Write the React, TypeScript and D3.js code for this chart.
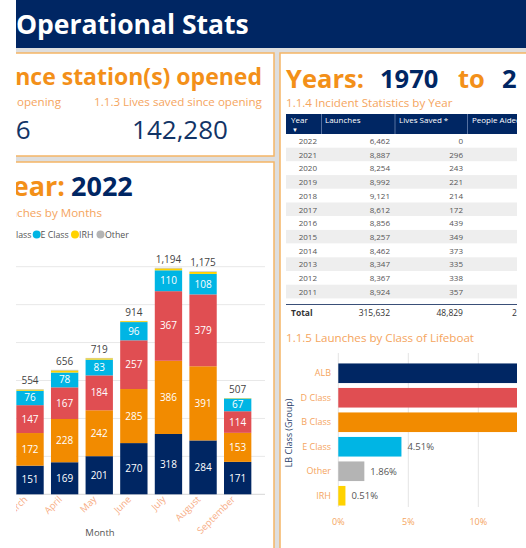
import React, { useRef, useEffect } from "react";
import * as d3 from "d3";

// launches by month, 2022 (stacked by lifeboat class)
const MONTHS = ["March", "April", "May", "June", "July", "August", "September"];
const ALB = [151, 169, 201, 270, 318, 284, 171];
const B_CLASS = [172, 228, 242, 285, 386, 391, 153];
const D_CLASS = [147, 167, 184, 257, 367, 379, 114];
const E_CLASS = [76, 78, 83, 96, 110, 108, 67];
const IRH = [6, 11, 7, 5, 10, 10, 2];
const OTHER = [2, 3, 2, 1, 3, 3, 0];
const MONTH_TICKS = [0, 200, 400, 600, 800, 1000, 1200];

// incident statistics table
const YEARS = [2022, 2021, 2020, 2019, 2018, 2017, 2016, 2015, 2014, 2013, 2012, 2011];
const LAUNCHES = [6462, 8887, 8254, 8992, 9121, 8612, 8856, 8257, 8462, 8347, 8367, 8924];
const LIVES_SAVED = [0, 296, 243, 221, 214, 172, 439, 349, 373, 335, 338, 357];
const TABLE_COLUMNS = ["Year", "Launches", "Lives Saved *", "People Aided"];
const TOTAL_LAUNCHES = 315632;
const TOTAL_LIVES_SAVED = 48829;

// share of launches by class
const CLASSES = ["ALB", "D Class", "B Class", "E Class", "Other", "IRH"];
const CLASS_SHARE = [36.9, 28.1, 28.12, 4.51, 1.86, 0.51];
const SHARE_TICKS = [0, 5, 10];

const LIVES_SAVED_SINCE_OPENING = 142280;

const NAVY = "#002663";
const ORANGE = "#F28B00";
const RED = "#E04E52";
const CYAN = "#00B5E4";
const YELLOW = "#FFD200";
const GREY = "#B4B4B4";
const TITLE_ORANGE = "#F39019";
const LABEL_ORANGE = "#F5A55E";
const BORDER = "#F5B565";
const TEXT = "#555";
const FONT = "'Segoe UI', 'Open Sans', sans-serif";

export const OperationalStats = () => {
    const svgRef = useRef<SVGSVGElement>(null);

    useEffect(() => {
        if (!svgRef.current) return;

        const svg = d3.select(svgRef.current);
        svg.selectAll("*").remove();

        const width = 526;
        const height = 548;
        svg.attr("width", width)
            .attr("height", height)
            .style("font-family", FONT)
            .style("position", "absolute")
            .style("left", 0)
            .style("top", 0);

        const defs = svg.append("defs");
        defs.append("clipPath").attr("id", "clip-page")
            .append("rect").attr("x", 16).attr("y", 0).attr("width", width - 16).attr("height", height);
        defs.append("clipPath").attr("id", "clip-rows")
            .append("rect").attr("x", 280).attr("y", 134).attr("width", 260).attr("height", 169.5);

        svg.append("rect").attr("width", width).attr("height", height).attr("fill", "#fff");

        const page = svg.append("g").attr("clip-path", "url(#clip-page)");

        // backdrop + header
        page.append("rect").attr("x", 0).attr("y", 48).attr("width", width).attr("height", height).attr("fill", "#dedede");
        page.append("rect").attr("x", 0).attr("y", 0).attr("width", width).attr("height", 48).attr("fill", NAVY);
        page.append("text")
            .attr("x", 16).attr("y", 34)
            .attr("fill", "#fff").attr("font-size", 26.5).attr("font-weight", 700)
            .text("Operational Stats");

        // panels
        const panel = (x: number, y: number, w: number, h: number) =>
            page.append("rect")
                .attr("x", x).attr("y", y).attr("width", w).attr("height", h)
                .attr("fill", "#fff").attr("stroke", BORDER).attr("stroke-width", 1.5);
        panel(-20, 53, 294, 103);
        panel(-20, 162, 294, 420);
        panel(280, 53, 300, 520);

        // KPI panel
        page.append("text")
            .attr("x", 262).attr("y", 85).attr("text-anchor", "end")
            .attr("fill", TITLE_ORANGE).attr("font-size", 23).attr("font-weight", 700)
            .text("nce station(s) opened");
        page.append("text")
            .attr("x", 61).attr("y", 106).attr("text-anchor", "end")
            .attr("fill", LABEL_ORANGE).attr("font-size", 11.6)
            .text("opening");
        page.append("text")
            .attr("x", 178).attr("y", 106).attr("text-anchor", "middle")
            .attr("fill", LABEL_ORANGE).attr("font-size", 11.6)
            .text("1.1.3 Lives saved since opening");
        page.append("text")
            .attr("x", 30.5).attr("y", 139).attr("text-anchor", "end")
            .attr("fill", "#123466").attr("font-size", 26)
            .text("6");
        page.append("text")
            .attr("x", 180).attr("y", 139).attr("text-anchor", "middle")
            .attr("fill", "#123466").attr("font-size", 26)
            .text(d3.format(",")(LIVES_SAVED_SINCE_OPENING));

        // ---- launches by months ----
        page.append("text")
            .attr("x", 65).attr("y", 196).attr("text-anchor", "end")
            .attr("fill", TITLE_ORANGE).attr("font-size", 27).attr("font-weight", 700)
            .text("Year:");
        page.append("text")
            .attr("x", 71).attr("y", 196)
            .attr("fill", NAVY).attr("font-size", 27).attr("font-weight", 700)
            .text("2022");
        page.append("text")
            .attr("x", 102).attr("y", 217).attr("text-anchor", "end")
            .attr("fill", LABEL_ORANGE).attr("font-size", 11.6)
            .text("1.1.6 Launches by Months");

        const legend = [
            { name: "D Class", color: RED, dot: -100, x: 31.5 },
            { name: "E Class", color: CYAN, dot: 36.7, x: 40.5 },
            { name: "IRH", color: YELLOW, dot: 75, x: 79 },
            { name: "Other", color: GREY, dot: 100.5, x: 105 },
        ];
        legend.forEach((l, i) => {
            page.append("circle").attr("cx", l.dot).attr("cy", 234.5).attr("r", 4).attr("fill", l.color);
            page.append("text")
                .attr("x", l.x).attr("y", 237.5)
                .attr("text-anchor", i === 0 ? "end" : "start")
                .attr("fill", TEXT).attr("font-size", 8.8)
                .text(l.name);
        });

        const x = d3.scaleBand()
            .domain(MONTHS)
            .range([12.9, 254.8])
            .paddingInner(0.21)
            .paddingOuter(0.1);

        const y = d3.scaleLinear()
            .domain([0, 1200])
            .range([494.3, 266.7]);

        page.append("g")
            .selectAll("line")
            .data(MONTH_TICKS)
            .join("line")
            .attr("x1", 0).attr("x2", 265)
            .attr("y1", (d) => y(d)).attr("y2", (d) => y(d))
            .attr("stroke", (d) => (d === 0 ? "#d6d6d6" : "#e8e8e8"))
            .attr("stroke-width", 1);

        const series = [
            { name: "ALB", values: ALB, color: NAVY },
            { name: "B Class", values: B_CLASS, color: ORANGE },
            { name: "D Class", values: D_CLASS, color: RED },
            { name: "E Class", values: E_CLASS, color: CYAN },
            { name: "IRH", values: IRH, color: YELLOW },
            { name: "Other", values: OTHER, color: GREY },
        ];
        const table = MONTHS.map((m, i) => {
            const row: Record<string, number | string> = { month: m };
            series.forEach((s) => (row[s.name] = s.values[i]));
            return row;
        });
        const stacked = d3.stack<Record<string, number | string>>()
            .keys(series.map((s) => s.name))
            .value((d, k) => d[k] as number)(table);

        stacked.forEach((layer, li) => {
            const g = page.append("g");
            g.selectAll("rect")
                .data(layer)
                .join("rect")
                .attr("x", (d) => x(d.data.month as string) || 0)
                .attr("y", (d) => y(d[1]))
                .attr("width", x.bandwidth())
                .attr("height", (d) => y(d[0]) - y(d[1]))
                .attr("fill", series[li].color);
            g.selectAll("text")
                .data(layer.filter((d) => y(d[0]) - y(d[1]) > 12))
                .join("text")
                .attr("x", (d) => (x(d.data.month as string) || 0) + x.bandwidth() / 2)
                .attr("y", (d) => (y(d[0]) + y(d[1])) / 2 + 3.5)
                .attr("text-anchor", "middle")
                .attr("fill", "#fff").attr("font-size", 10)
                .text((d) => d[1] - d[0]);
        });

        const totals = MONTHS.map((m, i) => ({ month: m, total: d3.sum(series, (s) => s.values[i]) }));
        page.append("g")
            .selectAll("text")
            .data(totals)
            .join("text")
            .attr("x", (d) => (x(d.month) || 0) + x.bandwidth() / 2)
            .attr("y", (d) => y(d.total) - 5)
            .attr("text-anchor", "middle")
            .attr("fill", "#444").attr("font-size", 10)
            .text((d) => d3.format(",")(d.total));

        page.append("g")
            .selectAll("text")
            .data(MONTHS)
            .join("text")
            .attr("transform", (d) => `translate(${(x(d) || 0) + x.bandwidth() / 2 - 2},${500}) rotate(-45)`)
            .attr("text-anchor", "end")
            .attr("fill", "#F7AD85").attr("font-size", 9.5)
            .text((d) => d);

        page.append("text")
            .attr("x", 100).attr("y", 536).attr("text-anchor", "middle")
            .attr("fill", TEXT).attr("font-size", 9.5)
            .text("Month");

        // ---- right panel ----
        const right = page.append("g");
        const titleParts = [
            { t: "Years:", x: 286, c: TITLE_ORANGE },
            { t: "1970", x: 380, c: NAVY },
            { t: "to", x: 458, c: TITLE_ORANGE },
            { t: "2022", x: 502, c: NAVY },
        ];
        titleParts.forEach((p) => {
            right.append("text")
                .attr("x", p.x).attr("y", 88)
                .attr("fill", p.c).attr("font-size", 25.5).attr("font-weight", 700)
                .text(p.t);
        });
        right.append("text")
            .attr("x", 286).attr("y", 107)
            .attr("fill", LABEL_ORANGE).attr("font-size", 11.6)
            .text("1.1.4 Incident Statistics by Year");

        // table header
        right.append("rect").attr("x", 286).attr("y", 114).attr("width", 260).attr("height", 20).attr("fill", NAVY);
        const colX = [291, 325, 399, 472];
        TABLE_COLUMNS.forEach((c, i) => {
            right.append("text")
                .attr("x", colX[i]).attr("y", 123)
                .attr("fill", "#fff").attr("font-size", 8)
                .text(c);
        });
        right.append("text").attr("x", 292).attr("y", 132).attr("fill", "#fff").attr("font-size", 6).text("▼");
        [321.5, 395, 467.5].forEach((sx) => {
            right.append("line")
                .attr("x1", sx).attr("x2", sx).attr("y1", 114).attr("y2", 134)
                .attr("stroke", "#5570a0").attr("stroke-width", 1);
        });

        const rowH = 13.7;
        const rowY = d3.scaleLinear().domain([0, 1]).range([134, 134 + rowH]);
        const rows = right.append("g").attr("clip-path", "url(#clip-rows)");
        const rowG = rows.selectAll("g")
            .data(YEARS)
            .join("g")
            .attr("transform", (d, i) => `translate(0,${rowY(i)})`);
        rowG.append("rect")
            .attr("x", 286).attr("width", 260).attr("height", rowH)
            .attr("fill", (d, i) => (i % 2 === 1 ? "#eeeeee" : "#fff"));
        rowG.append("text")
            .attr("x", 317).attr("y", 10).attr("text-anchor", "end")
            .attr("fill", TEXT).attr("font-size", 8)
            .text((d) => d);
        rowG.append("text")
            .attr("x", 390).attr("y", 10).attr("text-anchor", "end")
            .attr("fill", TEXT).attr("font-size", 8)
            .text((d, i) => d3.format(",")(LAUNCHES[i]));
        rowG.append("text")
            .attr("x", 463).attr("y", 10).attr("text-anchor", "end")
            .attr("fill", TEXT).attr("font-size", 8)
            .text((d, i) => d3.format(",")(LIVES_SAVED[i]));

        right.append("line")
            .attr("x1", 286).attr("x2", 546).attr("y1", 304.5).attr("y2", 304.5)
            .attr("stroke", "#3a4f78").attr("stroke-width", 1.2);
        right.append("text").attr("x", 291).attr("y", 316).attr("fill", "#333").attr("font-size", 8.5).attr("font-weight", 700).text("Total");
        right.append("text").attr("x", 390).attr("y", 316).attr("text-anchor", "end").attr("fill", "#333").attr("font-size", 8.5).text(d3.format(",")(TOTAL_LAUNCHES));
        right.append("text").attr("x", 463).attr("y", 316).attr("text-anchor", "end").attr("fill", "#333").attr("font-size", 8.5).text(d3.format(",")(TOTAL_LIVES_SAVED));
        right.append("text").attr("x", 512).attr("y", 316).attr("fill", "#333").attr("font-size", 8.5).text("2");

        // ---- launches by class ----
        right.append("text")
            .attr("x", 286).attr("y", 342)
            .attr("fill", LABEL_ORANGE).attr("font-size", 11.6)
            .text("1.1.5 Launches by Class of Lifeboat");

        const cx = d3.scaleLinear().domain([0, 5]).range([338.3, 408.3]);
        const cy = d3.scaleBand().domain(CLASSES).range([361, 508]).paddingInner(0.2).paddingOuter(0.1);
        const classColor = [NAVY, RED, ORANGE, CYAN, GREY, YELLOW];

        right.append("g")
            .selectAll("line")
            .data(SHARE_TICKS)
            .join("line")
            .attr("x1", (d) => cx(d)).attr("x2", (d) => cx(d))
            .attr("y1", 353).attr("y2", 507)
            .attr("stroke", "#e4e4e4").attr("stroke-width", 1);
        right.append("g")
            .selectAll("text")
            .data(SHARE_TICKS)
            .join("text")
            .attr("x", (d) => cx(d)).attr("y", 525).attr("text-anchor", "middle")
            .attr("fill", LABEL_ORANGE).attr("font-size", 9)
            .text((d) => `${d}%`);

        right.append("g")
            .selectAll("rect")
            .data(CLASSES)
            .join("rect")
            .attr("x", cx(0))
            .attr("y", (d) => cy(d) || 0)
            .attr("width", (d, i) => cx(CLASS_SHARE[i]) - cx(0))
            .attr("height", cy.bandwidth())
            .attr("fill", (d, i) => classColor[i]);
        right.append("g")
            .selectAll("text")
            .data(CLASSES)
            .join("text")
            .attr("x", 331).attr("y", (d) => (cy(d) || 0) + cy.bandwidth() / 2 + 3)
            .attr("text-anchor", "end")
            .attr("fill", LABEL_ORANGE).attr("font-size", 9)
            .text((d) => d);
        right.append("g")
            .selectAll("text")
            .data(CLASSES)
            .join("text")
            .attr("x", (d, i) => cx(CLASS_SHARE[i]) + 6)
            .attr("y", (d) => (cy(d) || 0) + cy.bandwidth() / 2 + 3.5)
            .attr("fill", TEXT).attr("font-size", 9.5)
            .text((d, i) => `${CLASS_SHARE[i].toFixed(2)}%`);
        right.append("text")
            .attr("transform", "translate(292,433) rotate(-90)")
            .attr("text-anchor", "middle")
            .attr("fill", "#2a3f6a").attr("font-size", 9)
            .text("LB Class (Group)");

        // the right visual is cut off by the page edge
        page.append("rect")
            .attr("x", 517).attr("y", 54).attr("width", width - 517).attr("height", height - 54)
            .attr("fill", "#fff");
    }, []);

    return <svg ref={svgRef} />;
};

export default OperationalStats;
